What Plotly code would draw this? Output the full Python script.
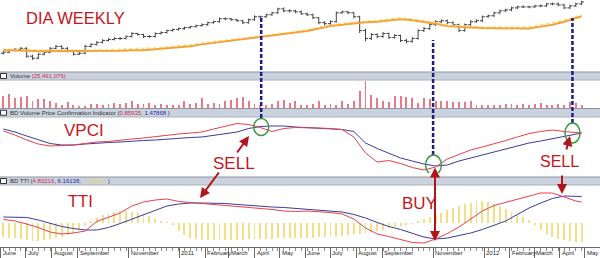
import pandas as pd
import plotly.graph_objects as go

# ---------------- data ----------------
weeks = pd.date_range("2010-06-04", periods=100, freq="7D")
line_idx = list(range(0, 100, 2)) + [99]
line_dates = weeks[line_idx]

opens = [105.5,106.0,107.0,107.5,108.0,104.0,103.0,105.0,106.0,108.0,
         109.0,108.0,106.5,105.0,105.5,109.0,110.0,111.0,112.0,112.5,
         113.0,113.0,114.0,115.5,115.0,114.0,114.0,115.5,116.0,117.0,
         117.5,118.0,118.5,119.0,119.5,120.0,121.0,121.5,123.0,123.0,
         122.5,122.0,121.0,122.5,124.0,124.0,125.0,126.0,128.0,127.0,
         127.0,126.5,125.5,125.0,123.5,121.0,120.5,121.5,126.0,126.5,
         126.0,124.0,117.0,113.0,115.0,114.0,115.5,113.5,114.5,112.0,
         111.5,113.0,117.0,118.0,120.0,121.5,122.0,121.0,120.0,117.0,
         120.0,121.5,122.0,124.0,124.5,126.0,127.0,127.5,128.5,129.0,
         129.0,129.0,129.5,129.5,130.5,130.5,130.0,128.5,129.5,130.5]
closes = [106.0,107.0,107.5,108.0,104.0,103.0,105.0,106.0,108.0,109.0,
          108.0,106.5,105.0,105.5,109.0,110.0,111.0,112.0,112.5,113.0,
          113.0,114.0,115.5,115.0,114.0,114.0,115.5,116.0,117.0,117.5,
          118.0,118.5,119.0,119.5,120.0,121.0,121.5,123.0,123.0,122.5,
          122.0,121.0,122.5,124.0,124.0,125.0,126.0,128.0,127.0,127.0,
          126.5,125.5,125.0,123.5,121.0,120.5,121.5,126.0,126.5,126.0,
          124.0,117.0,113.0,115.0,114.0,115.5,113.5,114.5,112.0,111.5,
          113.0,117.0,118.0,120.0,121.5,122.0,121.0,120.0,117.0,120.0,
          121.5,122.0,124.0,124.5,126.0,127.0,127.5,128.5,129.0,129.0,
          129.0,129.5,129.5,130.5,130.5,130.0,128.5,129.5,130.5,131.5]
highs = [106.8,107.6,108.2,108.6,108.5,104.8,105.6,106.7,108.6,109.7,
         109.5,108.6,107.0,106.3,109.8,110.6,111.6,112.6,113.1,113.6,
         113.7,114.5,116.2,115.9,115.4,114.7,116.1,116.6,117.5,118.1,
         118.5,119.0,119.4,120.0,120.6,121.5,122.1,123.6,123.6,123.4,
         123.0,122.5,123.1,124.7,124.6,125.6,126.6,128.6,128.7,127.8,
         127.6,127.2,126.1,125.6,123.9,121.8,122.2,126.7,127.2,126.9,
         126.5,124.5,118.0,115.8,115.6,116.3,116.0,115.2,114.9,112.8,
         113.6,117.6,118.8,120.6,122.2,122.6,122.6,121.6,120.5,120.6,
         122.2,122.7,124.6,125.1,126.6,127.6,128.1,129.1,129.6,129.7,
         129.6,130.1,130.2,131.1,131.2,131.2,130.6,130.1,131.1,132.1]
lows = [104.8,105.5,106.4,106.9,103.2,102.1,102.6,104.4,105.5,107.4,
        107.3,106.0,104.3,104.6,105.0,108.4,109.4,110.5,111.5,112.0,
        112.2,112.5,113.5,114.5,113.2,113.3,113.5,115.0,115.5,116.5,
        117.0,117.4,118.0,118.5,119.0,119.4,120.5,121.0,122.2,121.9,
        121.4,120.3,120.5,122.0,123.2,123.5,124.5,125.5,126.3,126.2,
        125.8,124.9,124.3,122.8,120.2,119.6,120.0,121.0,125.6,125.3,
        123.2,115.8,111.6,112.2,113.0,113.3,112.8,112.9,111.1,110.5,
        110.8,112.4,116.3,117.2,119.3,120.8,120.2,119.3,116.2,116.4,
        119.3,121.0,121.3,123.5,123.9,125.3,126.4,126.8,127.9,128.4,
        128.3,128.5,128.8,128.9,129.8,129.3,127.9,128.0,128.9,129.9]

ma_slow = [107.0,107.0,106.75,106.5,106.5,106.5,106.5,106.5,106.5,106.75,
           106.75,107.0,107.0,107.5,108.0,108.5,109.0,110.0,110.75,111.5,
           112.25,112.75,113.5,114.25,115.0,115.75,116.75,118.0,119.25,120.0,
           120.75,121.25,121.5,122.0,122.75,122.25,121.5,120.5,119.25,118.75,
           118.5,118.25,118.25,118.0,118.0,118.0,119.0,120.0,121.5,123.25,124.25]
ma_dotted = [107.6,107.6,107.3,107.1,107.0,107.0,107.0,107.0,107.1,107.3,
             107.4,107.6,107.7,108.2,108.7,109.2,109.8,110.7,111.4,112.2,
             112.9,113.4,114.1,114.8,115.6,116.3,117.4,118.6,119.8,120.6,
             121.3,121.8,122.1,122.7,123.5,123.0,122.2,121.1,119.9,119.3,
             119.0,118.8,118.8,118.6,118.7,118.8,119.8,120.9,122.3,124.0,125.0]

volume_m = [88,105,75,83,92,50,68,68,55,38,
            25,45,20,15,13,30,30,25,30,38,
            30,38,50,30,30,38,25,30,25,19,
            20,50,30,38,75,30,38,30,50,62,
            75,80,50,30,25,20,30,50,62,38,
            50,20,25,30,55,25,30,25,50,30,
            50,130,205,95,75,55,45,88,88,80,
            75,38,75,70,55,55,50,43,43,45,
            50,25,25,25,20,25,30,32,25,30,
            25,30,38,25,25,30,25,45,38,25.5]

vpci = [1.9,1.5,1.0,0.6,0.4,0.45,0.5,0.65,0.8,0.85,
        1.0,1.1,1.2,1.35,1.5,1.6,1.7,1.8,2.1,2.4,
        2.65,2.55,2.25,1.85,2.15,2.25,2.25,2.2,2.15,2.05,
        1.3,-0.3,-1.2,-1.05,-1.35,-1.75,-2.0,-1.7,-0.9,-0.45,
        0.0,0.3,0.6,0.95,1.3,1.65,1.85,2.0,1.85,1.75,1.7]
vpci_signal = [2.1,1.8,1.4,1.0,0.65,0.5,0.5,0.6,0.7,0.75,
               0.8,0.9,0.95,1.0,1.1,1.15,1.25,1.3,1.45,1.6,
               1.8,2.15,2.35,2.4,2.4,2.3,2.25,2.2,2.1,2.05,
               1.85,0.7,0.15,-0.35,-0.8,-1.1,-1.4,-1.6,-1.5,-1.1,
               -0.8,-0.5,-0.15,0.15,0.4,0.7,0.9,1.15,1.4,1.65,1.7]

tti = [0.81,0.46,-0.23,-1.04,-2.07,-2.53,-2.30,-1.84,0.35,1.27,
       2.30,3.91,4.83,5.29,5.52,4.95,4.72,4.60,4.26,4.03,
       3.80,3.57,3.45,3.11,2.76,2.65,2.76,2.65,2.42,2.07,
       0.92,-1.15,-2.53,-3.11,-3.80,-4.49,-4.60,-3.68,-2.42,-0.92,
       0.92,2.76,4.03,4.72,5.52,6.21,6.90,6.90,5.98,5.06,4.83]
tti_signal = [1.38,1.38,1.27,0.69,-0.12,-0.81,-1.27,-1.61,-1.61,-1.04,
              -0.12,0.92,1.84,2.99,3.91,4.37,4.60,4.60,4.60,4.49,
              4.26,4.03,3.91,3.68,3.57,3.34,3.11,2.88,2.76,2.53,
              1.96,1.15,0.12,-0.81,-1.50,-2.42,-3.22,-3.68,-3.45,-2.88,
              -2.30,-1.50,-0.58,0.46,1.96,3.45,4.60,5.64,6.21,6.21,6.10]
tti_hist = [-3.2,-3.5,-3.5,-3.7,-3.9,-4.1,-4.1,-3.9,-3.7,-3.5,
            -3.2,-2.8,-2.3,-1.6,-0.7,0.3,1.2,1.8,2.3,2.6,
            2.8,2.8,2.6,2.3,2.0,1.6,1.0,0.5,0.2,-0.5,
            -1.8,-2.8,-3.4,-3.7,-3.9,-4.0,-4.0,-4.0,-3.9,-3.9,
            -3.8,-3.8,-3.7,-3.7,-3.7,-3.6,-3.6,-3.5,-3.5,-3.5,
            -3.4,-3.4,-3.4,-3.4,-3.3,-3.3,-3.2,-3.2,-3.0,-2.8,
            -2.5,-2.5,-2.3,-2.0,-1.8,-1.5,-1.2,-0.9,-0.6,-0.4,
            -0.2,0.3,0.9,1.4,1.9,2.4,2.9,3.4,3.9,4.3,
            4.7,5.0,5.1,4.9,4.4,3.8,3.2,2.5,1.9,1.4,
            0.8,-0.5,-1.5,-2.5,-3.2,-3.7,-4.0,-4.2,-4.3,-4.3]

month_ticks = ["2010-06-01","2010-07-01","2010-08-01","2010-09-01","2010-11-01",
               "2011-01-01","2011-02-01","2011-03-01","2011-04-01","2011-05-01",
               "2011-06-01","2011-07-01","2011-08-01","2011-09-01","2011-11-01",
               "2012-01-01","2012-02-01","2012-03-01","2012-04-01","2012-05-01"]
month_labels = ["June","July","August","September","November","2011","February",
                "March","April","May","June","July","August","September",
                "November","2012","February","March","April","May"]

signal_dates = ["2011-04-09", "2011-11-01", "2012-04-16"]

# ---------------- layout helpers ----------------
H = 258.0
W = 600.0
def py(p):
    return 1 - p / H
def px(p):
    return p / W

RED_TXT = "#c4161c"
ARROW = "#b3141c"
FONT = "Liberation Sans, Arial, sans-serif"

fig = go.Figure()

fig.add_trace(go.Ohlc(x=weeks, open=opens, high=highs, low=lows, close=closes,
                      increasing_line_color="#444444", decreasing_line_color="#444444",
                      line_width=1, tickwidth=0.42, xaxis="x", yaxis="y",
                      hoverinfo="skip"))
fig.add_trace(go.Scatter(x=line_dates, y=ma_dotted, mode="lines",
                         line=dict(color="#f6dc78", width=1.6, dash="dot"),
                         xaxis="x", yaxis="y", hoverinfo="skip"))
fig.add_trace(go.Scatter(x=line_dates, y=ma_slow, mode="lines",
                         line=dict(color="#f4a336", width=2),
                         xaxis="x", yaxis="y", hoverinfo="skip"))

bar_w = 86400000 * 1.1
fig.add_trace(go.Bar(x=weeks, y=volume_m, width=bar_w,
                     marker=dict(color="#e87a88", line_width=0),
                     xaxis="x", yaxis="y2", hoverinfo="skip"))

fig.add_trace(go.Scatter(x=line_dates, y=vpci_signal, mode="lines",
                         line=dict(color="#3b3b9c", width=1),
                         xaxis="x", yaxis="y3", hoverinfo="skip"))
fig.add_trace(go.Scatter(x=line_dates, y=vpci, mode="lines",
                         line=dict(color="#e8404c", width=1),
                         xaxis="x", yaxis="y3", hoverinfo="skip"))

fig.add_trace(go.Bar(x=weeks, y=tti_hist, width=bar_w,
                     marker=dict(color="#f3df86", line_width=0),
                     xaxis="x", yaxis="y4", hoverinfo="skip"))
fig.add_trace(go.Scatter(x=line_dates, y=tti_signal, mode="lines",
                         line=dict(color="#3b3b9c", width=1),
                         xaxis="x", yaxis="y4", hoverinfo="skip"))
fig.add_trace(go.Scatter(x=line_dates, y=tti, mode="lines",
                         line=dict(color="#e8404c", width=1),
                         xaxis="x", yaxis="y4", hoverinfo="skip"))

hidden = dict(showgrid=False, zeroline=False, showline=False, showticklabels=False,
              ticks="", anchor="x", fixedrange=True)

fig.update_layout(
    width=600, height=258, margin=dict(l=0, r=0, t=0, b=0),
    paper_bgcolor="white", plot_bgcolor="white", showlegend=False, bargap=0,
    xaxis=dict(type="date", range=["2010-05-31", "2012-05-19"], domain=[0, 1],
               anchor="free", position=py(247), showgrid=False, zeroline=False,
               showline=True, linecolor="#6a6a6a", linewidth=1,
               tickmode="array", tickvals=month_ticks, ticks="outside", ticklen=11,
               tickcolor="#6a6a6a", tickwidth=1, showticklabels=False,
               minor=dict(tickmode="array", tickvals=list(weeks), ticks="outside",
                          ticklen=3, tickcolor="#8a8a8a", tickwidth=1, showgrid=False),
               rangeslider=dict(visible=False), fixedrange=True),
    yaxis=dict(domain=[py(71), 1], range=[96.5, 132.5], **hidden),
    yaxis2=dict(domain=[py(108), py(80)], range=[0, 210], **hidden),
    yaxis3=dict(domain=[py(173), py(117)], range=[-2.3, 3.3], **hidden),
    yaxis4=dict(domain=[py(245), py(185)], range=[-5.06, 8.74], **hidden),
)

shapes = []
# header bands
bands = [(72, 80), (108.5, 117), (177, 185)]
for top, bot in bands:
    shapes.append(dict(type="rect", xref="paper", yref="paper", x0=0, x1=1,
                       y0=py(bot), y1=py(top), fillcolor="#c9d2de",
                       line=dict(width=0), layer="below"))
    shapes.append(dict(type="line", xref="paper", yref="paper", x0=0, x1=1,
                       y0=py(top), y1=py(top), line=dict(color="#8f969e", width=1)))
    shapes.append(dict(type="line", xref="paper", yref="paper", x0=0, x1=1,
                       y0=py(bot), y1=py(bot), line=dict(color="#aab2bc", width=1)))
    c = (top + bot) / 2
    shapes.append(dict(type="rect", xref="paper", yref="paper", x0=px(0.5), x1=px(6.5),
                       y0=py(c + 2.5), y1=py(c - 2.5), fillcolor="white",
                       line=dict(color="#333", width=1)))

# dashed signal lines
dash_spans = [(18, 118), (40, 155), (18, 123)]
for d, (t, b) in zip(signal_dates, dash_spans):
    shapes.append(dict(type="line", xref="x", yref="paper", x0=d, x1=d,
                       y0=py(b), y1=py(t),
                       line=dict(color="#1b1b8a", width=2.5, dash="4px,2px")))

# green circles on VPCI crossovers
circles = [("2011-03-31", "2011-04-18", 3.15, 1.45),
           ("2011-10-23", "2011-11-11", -0.5, -2.5),
           ("2012-04-07", "2012-04-25", 2.7, 0.7)]
for x0, x1, y1, y0 in circles:
    shapes.append(dict(type="circle", xref="x", yref="y3", x0=x0, x1=x1, y0=y0, y1=y1,
                       line=dict(color="#3f9a3f", width=1.5)))

fig.update_layout(shapes=shapes)

ann = []
def label(text, x, y, size, color=RED_TXT):
    ann.append(dict(text=text, xref="paper", yref="paper", x=px(x), y=py(y),
                    xanchor="left", yanchor="middle", showarrow=False,
                    font=dict(family=FONT, size=size, color=color)))

label("DIA WEEKLY", 24, 18, 16.5)
label("VPCI", 62, 130, 17)
label("SELL", 211, 163.5, 17)
label("SELL", 538, 161, 16)
label("TTI", 66, 201, 16.5)
label("BUY", 400, 203.5, 17)

band_font = dict(family=FONT, size=6, color="#333")
ann.append(dict(text="Volume <span style='color:#d0304a'>(25,491,076)</span>",
                xref="paper", yref="paper", x=px(8), y=py(76), xanchor="left",
                yanchor="middle", showarrow=False, font=band_font))
ann.append(dict(text="BD Volume Price Confirmation Indicator (<span style='color:#d0304a'>0.85935</span>, "
                     "<span style='color:#2a2aa0'>1.47868</span> )",
                xref="paper", yref="paper", x=px(8), y=py(112.8), xanchor="left",
                yanchor="middle", showarrow=False, font=band_font))
ann.append(dict(text="BD TTI (<span style='color:#d0304a'>4.80216</span>, "
                     "<span style='color:#2a2aa0'>6.16138</span>, "
                     "<span style='color:#e8d060'>-1.35922</span> )",
                xref="paper", yref="paper", x=px(8), y=py(181), xanchor="left",
                yanchor="middle", showarrow=False, font=band_font))

def arrow(hx, hy, tx, ty, both=False):
    a = dict(text="", xref="paper", yref="paper", x=px(hx), y=py(hy),
             ax=tx - hx, ay=ty - hy, showarrow=True, arrowhead=2, arrowsize=1,
             arrowwidth=2, arrowcolor=ARROW)
    if both:
        a["arrowside"] = "end+start"
        a["startarrowhead"] = 2
        a["startarrowsize"] = 1
    ann.append(a)

arrow(249, 136, 236, 154)
arrow(200, 198, 220, 171)
arrow(435, 241, 435, 166, both=True)
arrow(570, 136, 566, 151)
arrow(562, 194, 562, 174)

for d, t in zip(month_ticks, month_labels):
    ann.append(dict(text=t, xref="x", yref="paper", x=d, y=py(253), xanchor="left",
                    yanchor="middle", xshift=0, showarrow=False,
                    font=dict(family=FONT, size=6, color="#222")))

fig.update_layout(annotations=ann)

fig.write_html("out.html")
